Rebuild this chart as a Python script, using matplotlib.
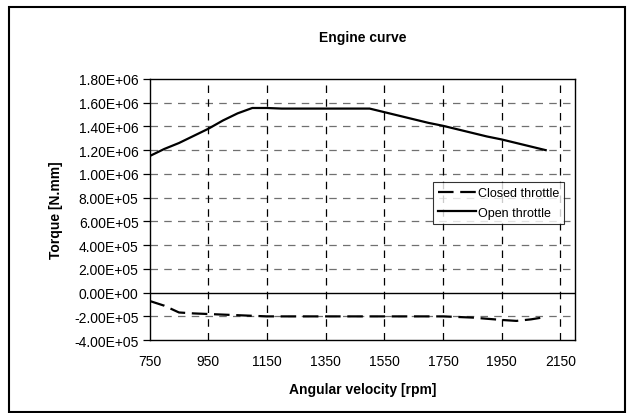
import matplotlib
matplotlib.use("Agg")
import matplotlib.pyplot as plt
from matplotlib.patches import Rectangle
from matplotlib.ticker import FuncFormatter

plt.rcParams['font.family'] = ['Liberation Sans', 'DejaVu Sans']

# engine speed [rpm]
rpm = [750, 800, 850, 900, 950, 1000, 1050, 1100, 1150, 1200, 1250, 1300,
       1350, 1400, 1450, 1500, 1550, 1600, 1650, 1700, 1750, 1800, 1850,
       1900, 1950, 2000, 2050, 2100]

# torque at wide open throttle [N.mm]
open_throttle = [1.15e6, 1.21e6, 1.26e6, 1.32e6, 1.38e6, 1.45e6, 1.51e6,
                 1.555e6, 1.555e6, 1.55e6, 1.55e6, 1.55e6, 1.55e6, 1.55e6,
                 1.55e6, 1.55e6, 1.52e6, 1.49e6, 1.46e6, 1.43e6, 1.405e6,
                 1.375e6, 1.345e6, 1.315e6, 1.29e6, 1.26e6, 1.23e6, 1.2e6]

# engine braking torque with throttle closed [N.mm]
closed_throttle = [-0.7e5, -1.1e5, -1.67e5, -1.75e5, -1.8e5, -1.85e5, -1.9e5,
                   -1.95e5, -2.0e5, -2.0e5, -2.0e5, -2.0e5, -2.0e5, -2.0e5,
                   -2.0e5, -2.0e5, -2.0e5, -2.0e5, -2.0e5, -2.0e5, -2.0e5,
                   -2.05e5, -2.1e5, -2.2e5, -2.3e5, -2.38e5, -2.25e5, -2.05e5]

x_ticks = list(range(750, 2151, 200))
y_ticks = [-4e5, -2e5, 0, 2e5, 4e5, 6e5, 8e5, 1e6, 1.2e6, 1.4e6, 1.6e6, 1.8e6]

fig = plt.figure(figsize=(6.34, 4.14), dpi=100)
fig.patch.set_facecolor('white')
ax = fig.add_axes([0.236, 0.176, 0.671, 0.631])

# chart border
fig.patches.append(Rectangle((9 / 634, 1 / 414), 616 / 634, 405 / 414,
                             transform=fig.transFigure, fill=False,
                             edgecolor='black', linewidth=1.5))

ax.plot(rpm, closed_throttle, color='black', linewidth=1.6,
        dashes=(7, 3), label='Closed throttle', zorder=3)
ax.plot(rpm, open_throttle, color='black', linewidth=1.6,
        label='Open throttle', zorder=3)

ax.set_xlim(750, 2200)
ax.set_ylim(-4e5, 1.8e6)
ax.set_xticks(x_ticks)
ax.set_yticks(y_ticks)
ax.yaxis.set_major_formatter(FuncFormatter(lambda v, p: '{:.2E}'.format(v)))

# dashed gridlines
for v in y_ticks[1:-1]:
    if v == 0:
        continue
    ax.axhline(v, color='#707070', linewidth=0.9, dashes=(6, 5), zorder=1)
for v in x_ticks[1:]:
    ax.axvline(v, color='black', linewidth=0.9, dashes=(6, 5), zorder=1)
ax.axhline(0, color='black', linewidth=1.0, zorder=2)

for s in ax.spines.values():
    s.set_linewidth(1.0)
    s.set_color('black')

ax.tick_params(axis='y', direction='out', length=5, width=0.9, labelsize=10, pad=3)
ax.tick_params(axis='x', direction='out', length=0, labelsize=10, pad=10)

ax.set_title('Engine curve', fontsize=10, fontweight='bold', pad=27)
ax.set_xlabel('Angular velocity [rpm]', fontsize=10, fontweight='bold', labelpad=10)
ax.set_ylabel('Torque [N.mm]', fontsize=10, fontweight='bold', labelpad=8)

leg = ax.legend(loc='upper left', bbox_to_anchor=(0.667, 0.605),
                fontsize=9, frameon=True, fancybox=False,
                handlelength=3.0, handletextpad=0.15, borderpad=0.4,
                labelspacing=0.6, borderaxespad=0)
leg.get_frame().set_edgecolor('black')
leg.get_frame().set_linewidth(0.8)

fig.savefig('out.png', dpi=100, facecolor='white')
